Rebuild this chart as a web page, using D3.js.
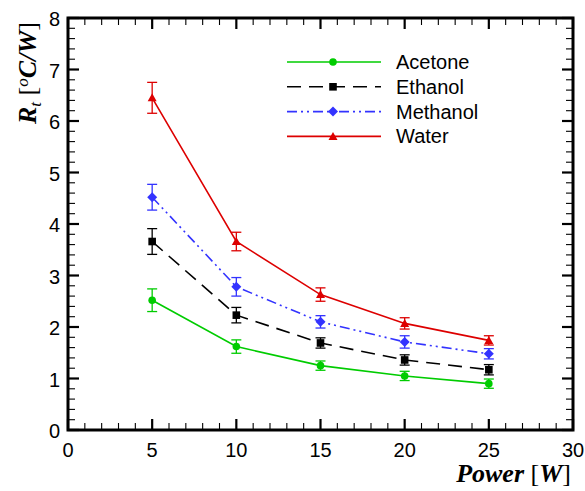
<!DOCTYPE html>
<html><head><meta charset="utf-8">
<script src="https://cdn.jsdelivr.net/npm/d3@7"></script>
<style>body{margin:0;background:#fff}</style>
</head><body>
<svg id="c" width="585" height="491"></svg>
<script>
const powers = [5, 10, 15, 20, 25];
const seriesNames = ["Acetone", "Ethanol", "Methanol", "Water"];
const acetone = [2.52, 1.62, 1.25, 1.05, 0.90];
const acetoneErr = [0.22, 0.13, 0.09, 0.09, 0.09];
const ethanol = [3.66, 2.23, 1.69, 1.36, 1.17];
const ethanolErr = [0.25, 0.15, 0.10, 0.10, 0.10];
const methanol = [4.52, 2.78, 2.10, 1.71, 1.48];
const methanolErr = [0.25, 0.18, 0.12, 0.12, 0.10];
const water = [6.45, 3.66, 2.63, 2.07, 1.74];
const waterErr = [0.30, 0.18, 0.13, 0.11, 0.09];
const xTicks = [0, 5, 10, 15, 20, 25, 30];
const yTicks = [0, 1, 2, 3, 4, 5, 6, 7, 8];

const svg = d3.select("#c");
const L = 68, R = 573, T = 18, B = 430;
const x = d3.scaleLinear().domain([0, 30]).range([L, R]);
const y = d3.scaleLinear().domain([0, 8]).range([B, T]);

const styles = {
  Acetone: {color: "#00cc00", dash: null, marker: "circle"},
  Ethanol: {color: "#000000", dash: "14,8", marker: "square"},
  Methanol: {color: "#3333ff", dash: "10,4,2,4,2,4", marker: "diamond"},
  Water: {color: "#dd0000", dash: null, marker: "triangle"}
};
const data = {Acetone: [acetone, acetoneErr], Ethanol: [ethanol, ethanolErr], Methanol: [methanol, methanolErr], Water: [water, waterErr]};

function marker(g, type, cx, cy, color) {
  if (type === "circle") g.append("circle").attr("cx", cx).attr("cy", cy).attr("r", 3.8).attr("fill", color);
  else if (type === "square") g.append("rect").attr("x", cx - 3.8).attr("y", cy - 3.8).attr("width", 7.6).attr("height", 7.6).attr("fill", color);
  else if (type === "diamond") g.append("path").attr("d", `M${cx},${cy-5}L${cx+5},${cy}L${cx},${cy+5}L${cx-5},${cy}Z`).attr("fill", color);
  else if (type === "triangle") g.append("path").attr("d", `M${cx},${cy-4.5}L${cx+4.5},${cy+3.5}L${cx-4.5},${cy+3.5}Z`).attr("fill", color);
}

// axes with ticks
const ax = svg.append("g");
const minorX = d3.range(0, 31, 1), minorY = d3.range(0, 8.01, 0.2);
minorX.forEach(v => {
  const major = v % 5 === 0;
  const len = major ? 11 : 7;
  ax.append("line").attr("x1", x(v)).attr("x2", x(v)).attr("y1", B).attr("y2", B - len).attr("stroke", "#000").attr("stroke-width", major ? 2.2 : 1.1);
  ax.append("line").attr("x1", x(v)).attr("x2", x(v)).attr("y1", T).attr("y2", T + len).attr("stroke", "#000").attr("stroke-width", major ? 2.2 : 1.1);
});
minorY.forEach(v => {
  const major = Math.abs(v - Math.round(v)) < 1e-6;
  const len = major ? 11 : 7;
  ax.append("line").attr("x1", L).attr("x2", L + len).attr("y1", y(v)).attr("y2", y(v)).attr("stroke", "#000").attr("stroke-width", major ? 2.2 : 1.1);
  ax.append("line").attr("x1", R).attr("x2", R - len).attr("y1", y(v)).attr("y2", y(v)).attr("stroke", "#000").attr("stroke-width", major ? 2.2 : 1.1);
});
ax.append("rect").attr("x", L).attr("y", T).attr("width", R - L).attr("height", B - T).attr("fill", "none").attr("stroke", "#000").attr("stroke-width", 3);

const font = "'Liberation Sans', Arial, sans-serif";
ax.selectAll(".xl").data(xTicks).enter().append("text")
  .attr("x", d => x(d)).attr("y", B + 27).attr("text-anchor", "middle")
  .attr("font-family", font).attr("font-size", 20).text(d => d);
ax.selectAll(".yl").data(yTicks).enter().append("text")
  .attr("x", L - 8).attr("y", d => y(d) + 8).attr("text-anchor", "end")
  .attr("font-family", font).attr("font-size", 20).text(d => d);

// series
const line = d3.line().x((d, i) => x(powers[i])).y(d => y(d));
seriesNames.forEach(name => {
  const st = styles[name], [vals, errs] = data[name];
  const g = svg.append("g");
  g.append("path").attr("d", line(vals)).attr("fill", "none").attr("stroke", st.color).attr("stroke-width", 1.6)
    .attr("stroke-dasharray", st.dash);
  vals.forEach((v, i) => {
    const cx = x(powers[i]);
    const y1 = y(v + errs[i]), y2 = y(v - errs[i]);
    g.append("line").attr("x1", cx).attr("x2", cx).attr("y1", y1).attr("y2", y2).attr("stroke", st.color).attr("stroke-width", 1.3);
    [y1, y2].forEach(yy => g.append("line").attr("x1", cx - 5).attr("x2", cx + 5).attr("y1", yy).attr("y2", yy).attr("stroke", st.color).attr("stroke-width", 1.3));
    marker(g, st.marker, cx, y(v), st.color);
  });
});

// legend
const lg = svg.append("g");
seriesNames.forEach((name, i) => {
  const st = styles[name];
  const ly = 62 + i * 24.8;
  lg.append("line").attr("x1", 287).attr("x2", 381).attr("y1", ly).attr("y2", ly).attr("stroke", st.color).attr("stroke-width", 1.6).attr("stroke-dasharray", st.dash);
  marker(lg, st.marker, 333, ly, st.color);
  lg.append("text").attr("x", 396).attr("y", ly + 7).attr("font-family", font).attr("font-size", 20).text(name);
});

// axis titles
const serif = "'Liberation Serif', 'Times New Roman', serif";
const xt = svg.append("text").attr("x", R - 2).attr("y", 482).attr("text-anchor", "end").attr("font-family", serif).attr("font-size", 26);
xt.append("tspan").attr("font-weight", "bold").attr("font-style", "italic").text("Power ");
xt.append("tspan").text("[");
xt.append("tspan").attr("font-weight", "bold").attr("font-style", "italic").text("W");
xt.append("tspan").text("]");

const yt = svg.append("text").attr("transform", "translate(36,73) rotate(-90)").attr("text-anchor", "middle").attr("font-family", serif).attr("font-size", 26);
yt.append("tspan").attr("font-weight", "bold").attr("font-style", "italic").text("R");
yt.append("tspan").attr("font-style", "italic").attr("font-size", 17).attr("dy", 5).text("t");
yt.append("tspan").attr("dy", -5).text(" [");
yt.append("tspan").attr("font-style", "italic").attr("font-size", 17).attr("dy", -8).text("o");
yt.append("tspan").attr("font-weight", "bold").attr("font-style", "italic").attr("dy", 8).text("C/W");
yt.append("tspan").text("]");
</script>
</body></html>
